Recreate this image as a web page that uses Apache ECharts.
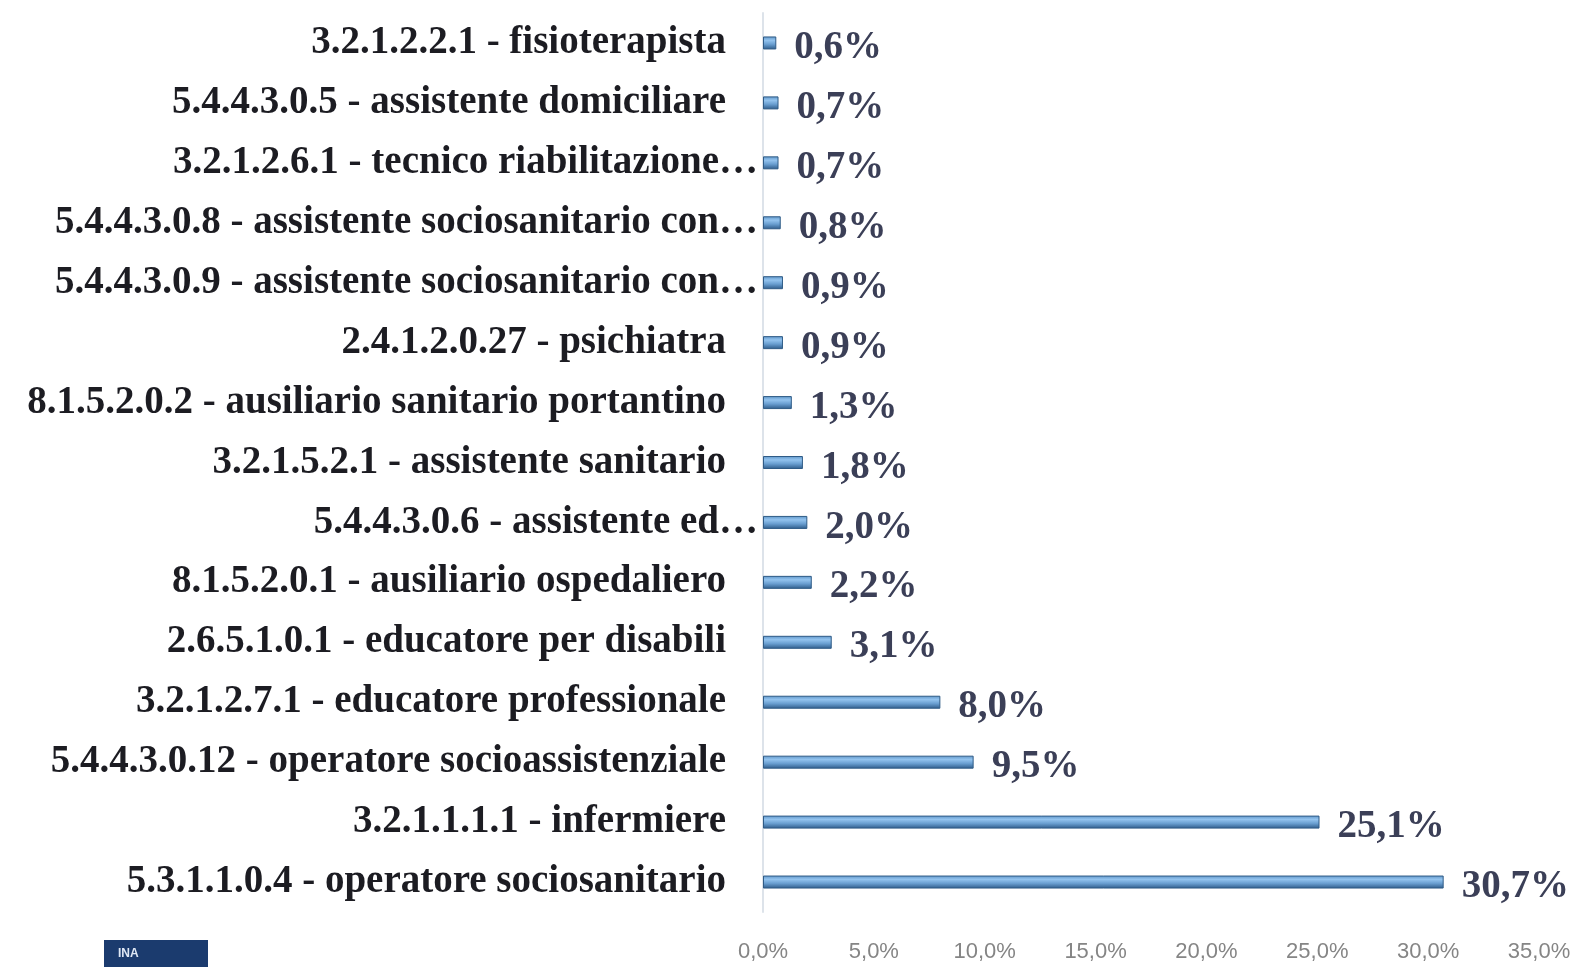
<!DOCTYPE html>
<html><head><meta charset="utf-8">
<script src="https://cdn.jsdelivr.net/npm/echarts@6/dist/echarts.min.js"></script>
<style>html,body{margin:0;padding:0;background:#fff}#c{width:1579px;height:967px}</style>
</head><body><div id="c"></div>
<script>
const categories = [
  "5.3.1.1.0.4 - operatore sociosanitario",
  "3.2.1.1.1.1 - infermiere",
  "5.4.4.3.0.12 - operatore socioassistenziale",
  "3.2.1.2.7.1 - educatore professionale",
  "2.6.5.1.0.1 - educatore per disabili",
  "8.1.5.2.0.1 - ausiliario ospedaliero",
  "5.4.4.3.0.6 - assistente ed\u2026",
  "3.2.1.5.2.1 - assistente sanitario",
  "8.1.5.2.0.2 - ausiliario sanitario portantino",
  "2.4.1.2.0.27 - psichiatra",
  "5.4.4.3.0.9 - assistente sociosanitario con\u2026",
  "5.4.4.3.0.8 - assistente sociosanitario con\u2026",
  "3.2.1.2.6.1 - tecnico riabilitazione\u2026",
  "5.4.4.3.0.5 - assistente domiciliare",
  "3.2.1.2.2.1 - fisioterapista"
];
const values = [30.7, 25.1, 9.5, 8.0, 3.1, 2.2, 2.0, 1.8, 1.3, 0.9, 0.9, 0.8, 0.7, 0.7, 0.6];
const xTicks = [0, 5, 10, 15, 20, 25, 30, 35];

const fmt = v => v.toFixed(1).replace('.', ',') + '%';
const chart = echarts.init(document.getElementById('c'));
chart.setOption({
  backgroundColor: '#ffffff',
  animation: false,
  grid: { left: 763, right: 40, top: 13, bottom: 55, containLabel: false },
  xAxis: {
    type: 'value', min: xTicks[0], max: xTicks[xTicks.length - 1], interval: 5,
    splitLine: { show: false }, axisLine: { show: false }, axisTick: { show: false },
    axisLabel: { margin: 29, color: '#858585', fontSize: 22, fontFamily: '"Liberation Sans Narrow", "Liberation Sans", Arial', formatter: v => fmt(v) }
  },
  yAxis: {
    type: 'category', data: categories,
    axisLine: { show: true, lineStyle: { color: '#dde3ea', width: 2 } },
    axisTick: { show: false },
    axisLabel: {
      margin: 5, interval: 0,
      formatter: v => v.endsWith('\u2026') ? '{t|' + v + '}' : '{t|' + v + '}{s|}',
      rich: {
        t: { fontFamily: '"Liberation Serif", "Times New Roman", serif', fontWeight: 'bold', fontSize: 39, color: '#1c1c22' },
        s: { width: 32 }
      }
    }
  },
  series: [{
    type: 'bar', data: values, barWidth: 13,
    itemStyle: {
      color: new echarts.graphic.LinearGradient(0, 0, 0, 1, [
        { offset: 0, color: '#5e95c8' },
        { offset: 0.3, color: '#93c3ee' },
        { offset: 0.6, color: '#6a9fd1' },
        { offset: 1, color: '#2d5a88' }
      ]),
      borderColor: '#2f5b86', borderWidth: 1
    },
    label: {
      show: true, position: 'right', distance: 18, offset: [0, 5],
      formatter: p => fmt(p.value),
      fontFamily: '"Liberation Serif", "Times New Roman", serif', fontWeight: 'bold', fontSize: 39, color: '#3b3f57'
    }
  }],
  graphic: [
    { type: 'rect', left: 104, top: 940, shape: { width: 104, height: 27 }, style: { fill: '#1b3b6e' } },
    { type: 'text', left: 118, top: 948, style: { text: 'INA', fill: '#dfe8f5', font: 'bold 12px "Liberation Sans", Arial' } }
  ]
});
</script></body></html>
